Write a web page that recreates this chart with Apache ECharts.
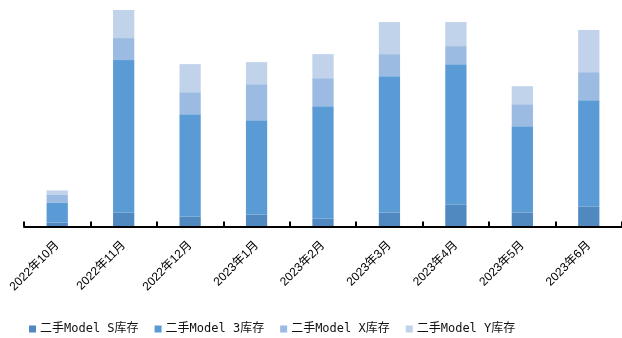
<!DOCTYPE html>
<html>
<head>
<meta charset="utf-8">
<script src="https://cdn.jsdelivr.net/npm/echarts@6/dist/echarts.min.js"></script>
<style>
  html, body { margin: 0; padding: 0; background: #fff; }
  #chart { width: 622px; height: 338px; }
</style>
</head>
<body>
<div id="chart"></div>
<script>
// Monthly used-car inventory by model (stacked)
var months = ['2022年10月', '2022年11月', '2022年12月', '2023年1月', '2023年2月',
              '2023年3月', '2023年4月', '2023年5月', '2023年6月'];
var modelS = [4, 14, 10, 12, 8, 14, 22, 14, 20];
var model3 = [20, 152, 102, 94, 112, 136, 140, 86, 106];
var modelX = [8, 22, 22, 36, 28, 22, 18, 22, 28];
var modelY = [4, 28, 28, 22, 24, 32, 24, 18, 42];

var seriesNames = ['二手Model S库存', '二手Model 3库存', '二手Model X库存', '二手Model Y库存'];
var seriesData = [modelS, model3, modelX, modelY];
var colors = ['#5089bf', '#5b9bd5', '#9bbbe2', '#c1d3eb'];

var chart = echarts.init(document.getElementById('chart'));
chart.setOption({
  animation: false,
  color: colors,
  grid: { left: 24, right: 0, top: 6, bottom: 111.5 },
  legend: {
    left: 29,
    bottom: 3,
    padding: 0,
    itemWidth: 7,
    itemHeight: 7,
    itemGap: 16,
    icon: 'rect',
    textStyle: { fontFamily: 'DejaVu Sans Mono, Noto Sans CJK SC', fontSize: 12, color: '#111', padding: [0, 0, 0, -1] },
    data: seriesNames
  },
  xAxis: {
    type: 'category',
    data: months,
    z: 5,
    axisLine: { lineStyle: { color: '#000', width: 2 } },
    axisTick: { show: true, inside: true, alignWithLabel: false, length: 5, lineStyle: { color: '#000', width: 2 } },
    axisLabel: {
      rotate: 45,
      margin: 17,
      fontFamily: 'Liberation Sans, Noto Sans CJK SC',
      fontSize: 12,
      color: '#000',
      interval: 0
    }
  },
  yAxis: {
    type: 'value',
    min: 0,
    max: 220,
    show: false
  },
  series: seriesData.map(function (d, i) {
    return {
      name: seriesNames[i],
      type: 'bar',
      stack: 'total',
      barWidth: '32%',
      data: d
    };
  })
});
</script>
</body>
</html>
